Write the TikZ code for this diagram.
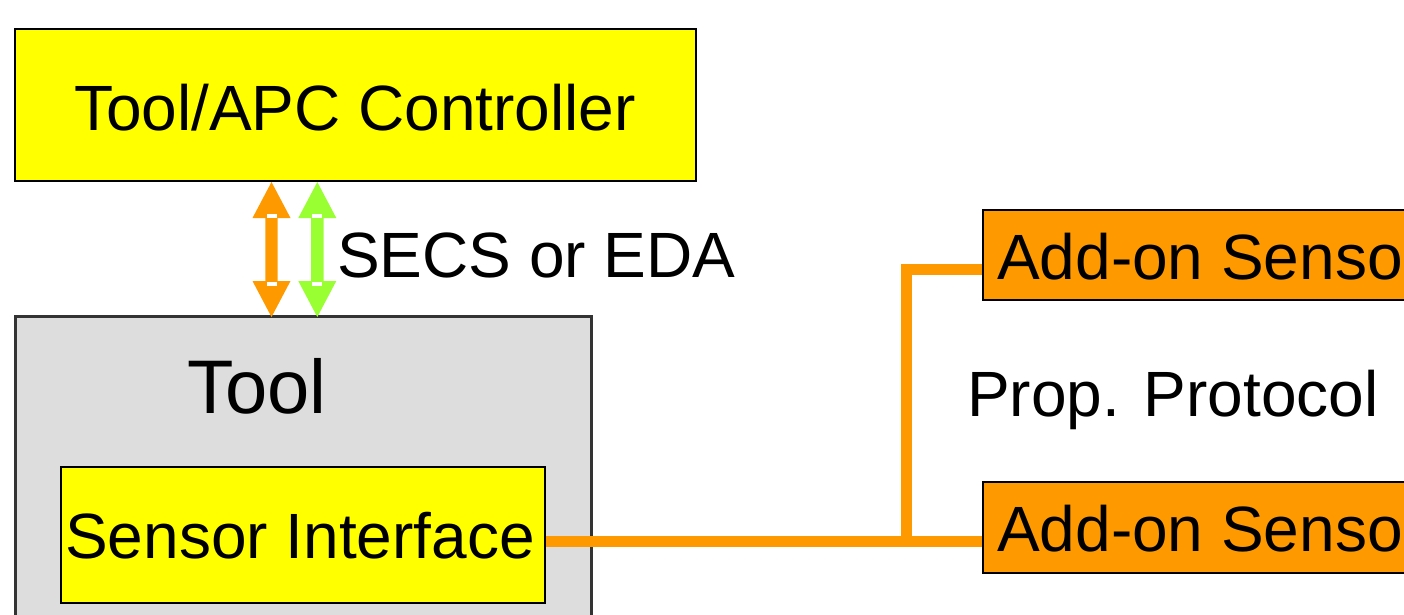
\documentclass[tikz,border=0pt]{standalone}
\usepackage{fontspec}
\setmainfont{Liberation Sans}
\definecolor{boxyellow}{HTML}{FFFF00}
\definecolor{wireorange}{HTML}{FF9900}
\definecolor{linkgreen}{HTML}{99FF33}
\definecolor{toolgray}{HTML}{DDDDDD}
\definecolor{toolborder}{HTML}{333333}
\begin{document}
\begin{tikzpicture}[x=1pt,y=-1pt,
  box/.style={draw=black, line width=2pt, inner sep=0pt, anchor=north west},
  lbl/.style={inner sep=0pt, font=\fontsize{64}{77}\selectfont},
  wire/.style={draw=wireorange, line width=11pt},
  % double-headed block arrow, drawn downward from its top tip
  dblhead/.pic={
    \fill (0,0) -- (19,36) -- (6.2,36) -- (6.2,99) -- (19,99) -- (0,135)
      -- (-19,99) -- (-6.2,99) -- (-6.2,36) -- (-19,36) -- cycle;
    \fill[white] (-5,32) rectangle (5,36);
    \fill[white] (-5,100) rectangle (5,104);
  }]
\useasboundingbox (0,0) rectangle (1404,614);
\clip (0,0) rectangle (1404,614);

% boxes
\node[box, fill=boxyellow, minimum width=681pt, minimum height=152pt] (ctrl) at (14,28) {};
\node[box, draw=toolborder, line width=3pt, fill=toolgray,
      minimum width=576pt, minimum height=340pt] (tool) at (14,315) {};
\node[box, fill=boxyellow, minimum width=484pt, minimum height=136pt] (si) at (60,466) {};
\node[box, fill=wireorange, minimum width=480pt, minimum height=90pt] (s1) at (982,209) {};
\node[box, fill=wireorange, minimum width=480pt, minimum height=91pt] (s2) at (982,481) {};

% labels
\node[lbl, anchor=base] (ctrltxt) at (355,130) {Tool/APC Controller};
\node[lbl, anchor=base, font=\fontsize{76}{90}\selectfont] (tooltxt) at (257,413) {Tool};
\node[lbl, anchor=base west] (sitxt) at (65,558) {Sensor Interface};
\node[lbl, anchor=base west] (s1txt) at (997,279) {Add-on Senso};
\node[lbl, anchor=base west] (s2txt) at (997,551) {Add-on Senso};
\node[lbl, anchor=base west] (secs) at (337,277) {SECS or EDA};
\node[lbl, anchor=base west] (prop) at (967,416) {Prop. Protocol};

% SECS / EDA link arrows between controller and tool
\coordinate (otip) at (271.5,0 |- ctrl.south);
\coordinate (gtip) at (317.3,0 |- ctrl.south);
\pic[fill=wireorange] at (otip) {dblhead};
\pic[fill=linkgreen] at (gtip) {dblhead};

% proprietary sensor bus
\coordinate (j) at (906.5,541.5);
\coordinate (k) at (906.5,269.5);
\draw[wire] (si.east |- j) -- (s2.west |- j);
\draw[wire] (j) -- (k) -- (s1.west |- k);
\end{tikzpicture}
\end{document}
